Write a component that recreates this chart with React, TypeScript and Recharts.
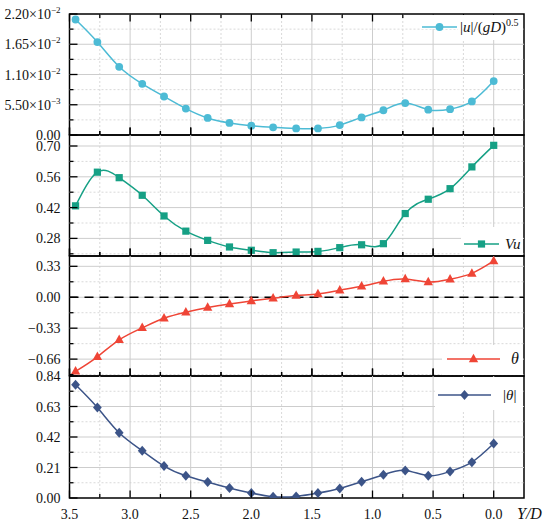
import React from 'react';
import { LineChart, Line, XAxis, YAxis, ReferenceLine, ReferenceArea } from 'recharts';

// ─── data ────────────────────────────────────────────────────────────────────
const yD = [3.45, 3.27, 3.09, 2.9, 2.72, 2.54, 2.36, 2.18, 2.0, 1.82, 1.63, 1.45, 1.27, 1.09, 0.91, 0.73, 0.54, 0.36, 0.18, 0.0];
const uNorm = [0.021, 0.0169, 0.0124, 0.0093, 0.007, 0.0048, 0.0031, 0.0022, 0.0017, 0.0014, 0.0012, 0.0012, 0.0018, 0.0032, 0.0045, 0.0058, 0.0046, 0.0047, 0.0061, 0.0098];
const vu = [0.428, 0.581, 0.556, 0.476, 0.382, 0.313, 0.271, 0.241, 0.226, 0.215, 0.218, 0.221, 0.238, 0.251, 0.256, 0.393, 0.458, 0.506, 0.605, 0.703];
const theta = [-0.79, -0.635, -0.454, -0.326, -0.224, -0.16, -0.11, -0.071, -0.039, -0.011, 0.018, 0.035, 0.075, 0.117, 0.17, 0.195, 0.163, 0.192, 0.255, 0.387];
const thetaAbs = [0.78, 0.623, 0.449, 0.325, 0.22, 0.153, 0.11, 0.069, 0.034, 0.009, 0.011, 0.034, 0.066, 0.112, 0.16, 0.19, 0.153, 0.183, 0.247, 0.375];

const xMajor = [3.5, 3.0, 2.5, 2.0, 1.5, 1.0, 0.5, 0.0];
const xMinor = [3.25, 2.75, 2.25, 1.75, 1.25, 0.75, 0.25];

const uMajor = [0, 0.0055, 0.011, 0.0165, 0.022];
const uMinor = [0.00275, 0.00825, 0.01375, 0.01925];
const vuMajor = [0.28, 0.42, 0.56, 0.7];
const vuMinor = [0.21, 0.35, 0.49, 0.63];
const thetaMajor = [-0.66, -0.33, 0, 0.33];
const thetaMinor = [-0.825, -0.495, -0.165, 0.165];
const absMajor = [0, 0.21, 0.42, 0.63, 0.84];
const absMinor = [0.105, 0.315, 0.525, 0.735];

const rows = yD.map((x, i) => ({ x, u: uNorm[i], vu: vu[i], theta: theta[i], abs: thetaAbs[i] }));

const W = 550;
const H = 528;
const LEFT = 69.5;
const RIGHT = 524;
const AX = 1; // thickness given to every axis box; taken back out of the margins
const X_DOMAIN: [number, number] = [-0.25, 3.5];
const FONT = '"Liberation Serif", "Times New Roman", serif';
const INK = '#111';
const MAJOR_GRID = '#cdcdcd';
const MINOR_GRID = '#d9d9d9';

type Shape = 'circle' | 'square' | 'triangle' | 'diamond';

// ─── markers ─────────────────────────────────────────────────────────────────
function Marker({ cx, cy, shape, color }: { cx: number; cy: number; shape: Shape; color: string }) {
  if (shape === 'circle') return <circle cx={cx} cy={cy} r={3.9} fill={color} />;
  if (shape === 'square') return <rect x={cx - 3.6} y={cy - 3.6} width={7.2} height={7.2} fill={color} />;
  if (shape === 'triangle')
    return <polygon points={`${cx},${cy - 5.2} ${cx - 4.7},${cy + 3.3} ${cx + 4.7},${cy + 3.3}`} fill={color} />;
  return <polygon points={`${cx},${cy - 5} ${cx + 4.4},${cy} ${cx},${cy + 5} ${cx - 4.4},${cy}`} fill={color} />;
}

// ─── ticks: inward marks drawn in the tick itself, labels outside ────────────
function sciLabel(v: number) {
  if (v === 0) return <>0.00</>;
  const e = Math.floor(Math.log10(v) + 1e-9);
  const m = (v / Math.pow(10, e)).toFixed(2);
  return (
    <>
      {m}×10
      <tspan dy={-6} fontSize={9}>{'−' + Math.abs(e)}</tspan>
    </>
  );
}

const fmt2 = (v: number) => v.toFixed(2).replace('-', '−');

function YTick({ x, y, payload, minor, sci }: any) {
  const v = payload.value as number;
  const isMinor = minor.includes(v);
  const len = isMinor ? 4 : 8;
  const X = Number(x);
  const Y = Number(y);
  return (
    <g>
      <path d={`M${X},${Y}H${X + len}`} stroke="#000" strokeWidth={1.3} fill="none" />
      {!isMinor && (
        <text x={X - 9} y={Y} dy={5} textAnchor="end" fontSize={14} fontFamily={FONT} fill={INK}>
          {sci ? sciLabel(v) : fmt2(v)}
        </text>
      )}
    </g>
  );
}

// dir: -1 draws the mark upwards from the axis, +1 downwards
function XTick({ x, y, payload, labels, dir }: any) {
  const v = payload.value as number;
  const isMinor = xMinor.includes(v);
  const len = isMinor ? 4 : 7.5;
  const X = Number(x);
  const Y = Number(y);
  return (
    <g>
      <path d={`M${X},${Y}V${Y + dir * len}`} stroke="#000" strokeWidth={1.3} fill="none" />
      {labels && !isMinor && (
        <text x={X} y={Y + 20.5} textAnchor="middle" fontSize={14} fontFamily={FONT} fill={INK}>
          {v.toFixed(1)}
        </text>
      )}
    </g>
  );
}

interface Panel {
  key: string;
  top: number;
  bottom: number;
  domain: [number, number];
  major: number[];
  minor: number[];
  color: string;
  shape: Shape;
  sci?: boolean;
  first?: boolean;
  xLabels?: boolean;
  zeroLine?: boolean;
}

const panels: Panel[] = [
  { key: 'u', top: 14, bottom: 135, domain: [0, 0.022], major: uMajor, minor: uMinor, color: '#4DBBD5', shape: 'circle', sci: true, first: true },
  { key: 'vu', top: 135, bottom: 256, domain: [0.2, 0.75], major: vuMajor, minor: vuMinor, color: '#16A085', shape: 'square' },
  { key: 'theta', top: 256, bottom: 376, domain: [-0.84, 0.44], major: thetaMajor, minor: thetaMinor, color: '#EF4536', shape: 'triangle', zeroLine: true },
  { key: 'abs', top: 376, bottom: 498, domain: [0, 0.84], major: absMajor, minor: absMinor, color: '#3C5488', shape: 'diamond', xLabels: true },
];

const xAll = [...xMajor, ...xMinor].sort((a, b) => b - a);

function PanelChart({ p }: { p: Panel }) {
  const yAll = [...p.major, ...p.minor].sort((a, b) => a - b);
  const inside = (v: number) => v > p.domain[0] && v < p.domain[1];
  const xInside = (v: number) => v > X_DOMAIN[0] && v < X_DOMAIN[1];
  return (
    <div style={{ position: 'absolute', left: 0, top: 0 }}>
      <LineChart
        width={W}
        height={H}
        data={rows}
        margin={{ top: p.top - AX, bottom: H - p.bottom - AX, left: LEFT - AX, right: W - RIGHT }}
      >
        <XAxis
          xAxisId="x"
          dataKey="x"
          type="number"
          reversed
          domain={X_DOMAIN}
          allowDataOverflow
          ticks={xAll}
          interval={0}
          height={AX}
          tickSize={0}
          tickMargin={0}
          axisLine={false}
          tickLine={false}
          tick={<XTick labels={!!p.xLabels} dir={-1} />}
        />
        {/* top axis: inward marks on the first panel, the shared-edge marks (pointing up) elsewhere */}
        <XAxis
          xAxisId="xt"
          orientation="top"
          dataKey="x"
          type="number"
          reversed
          domain={X_DOMAIN}
          allowDataOverflow
          ticks={xAll}
          interval={0}
          height={AX}
          tickSize={0}
          tickMargin={0}
          axisLine={false}
          tickLine={false}
          tick={<XTick labels={false} dir={p.first ? 1 : -1} />}
        />
        <YAxis
          yAxisId="y"
          type="number"
          domain={p.domain}
          allowDataOverflow
          ticks={yAll}
          interval={0}
          width={AX}
          tickSize={0}
          tickMargin={0}
          axisLine={false}
          tickLine={false}
          tick={<YTick minor={p.minor} sci={!!p.sci} />}
        />

        {/* minor grid (dotted) */}
        {xMinor.map((v) => (
          <ReferenceLine key={'xm' + v} xAxisId="x" yAxisId="y" x={v} stroke={MINOR_GRID} strokeDasharray="2 2" />
        ))}
        {p.minor.filter(inside).map((v) => (
          <ReferenceLine key={'ym' + v} xAxisId="x" yAxisId="y" y={v} stroke={MINOR_GRID} strokeDasharray="2 2" />
        ))}
        {/* major grid (solid) */}
        {xMajor.filter(xInside).map((v) => (
          <ReferenceLine key={'xM' + v} xAxisId="x" yAxisId="y" x={v} stroke={MAJOR_GRID} />
        ))}
        {p.major.filter(inside).map((v) => (
          <ReferenceLine key={'yM' + v} xAxisId="x" yAxisId="y" y={v} stroke={MAJOR_GRID} />
        ))}

        {p.zeroLine && (
          <ReferenceLine xAxisId="x" yAxisId="y" y={0} stroke="#000" strokeWidth={1.5} strokeDasharray="9 6" />
        )}

        {/* panel frame */}
        <ReferenceArea
          xAxisId="x"
          yAxisId="y"
          x1={X_DOMAIN[0]}
          x2={X_DOMAIN[1]}
          y1={p.domain[0]}
          y2={p.domain[1]}
          fill="none"
          fillOpacity={0}
          stroke="#000"
          strokeWidth={1.5}
        />

        <Line
          xAxisId="x"
          yAxisId="y"
          dataKey={p.key}
          type="natural"
          stroke={p.color}
          strokeWidth={1.5}
          isAnimationActive={false}
          dot={(d: any) => <Marker key={d.index} cx={d.cx} cy={d.cy} shape={p.shape} color={p.color} />}
          activeDot={false}
        />
      </LineChart>
    </div>
  );
}

// ─── legends (white boxes laid over the grid, as in the figure) ──────────────
interface LegendSpec {
  boxes: [number, number, number, number][];
  line: [number, number];
  y: number;
  textX: number;
  fontSize: number;
  color: string;
  shape: Shape;
  label: React.ReactNode;
}

const legends: LegendSpec[] = [
  {
    boxes: [[420, 15, 103, 14], [458, 15, 65, 25]],
    line: [422, 457], y: 27, textX: 460, fontSize: 15, color: '#4DBBD5', shape: 'circle',
    label: (
      <>
        |<i>u</i>|/(<i>gD</i>)<span style={{ fontSize: 10, position: 'relative', top: -6 }}>0.5</span>
      </>
    ),
  },
  { boxes: [[461, 227, 62, 28]], line: [464, 499], y: 244, textX: 505, fontSize: 15, color: '#16A085', shape: 'square', label: <i>Vu</i> },
  { boxes: [[442, 345, 81, 30]], line: [447, 500], y: 359, textX: 511, fontSize: 16, color: '#EF4536', shape: 'triangle', label: <i>θ</i> },
  {
    boxes: [[435, 377, 88, 33]], line: [438, 491], y: 395, textX: 503, fontSize: 15, color: '#3C5488', shape: 'diamond',
    label: (
      <>
        |<i>θ</i>|
      </>
    ),
  },
];

function LegendItem({ s }: { s: LegendSpec }) {
  const [l0, l1] = s.line;
  return (
    <>
      {s.boxes.map(([bx, by, bw, bh], i) => (
        <div key={i} style={{ position: 'absolute', left: bx, top: by, width: bw, height: bh, background: '#fff' }} />
      ))}
      <svg style={{ position: 'absolute', left: 0, top: 0, overflow: 'visible' }} width={1} height={1}>
        <line x1={l0} x2={l1} y1={s.y} y2={s.y} stroke={s.color} strokeWidth={1.5} />
        <Marker cx={(l0 + l1) / 2} cy={s.y} shape={s.shape} color={s.color} />
      </svg>
      <span
        style={{
          position: 'absolute',
          left: s.textX,
          top: s.y - 11,
          lineHeight: '22px',
          fontSize: s.fontSize,
          fontFamily: FONT,
          color: INK,
          whiteSpace: 'nowrap',
        }}
      >
        {s.label}
      </span>
    </>
  );
}

export default function App() {
  return (
    <div style={{ position: 'absolute', left: 0, top: 0, width: W, height: H, background: '#fff', overflow: 'hidden' }}>
      {panels.map((p) => (
        <PanelChart key={p.key} p={p} />
      ))}
      {legends.map((s, i) => (
        <LegendItem key={i} s={s} />
      ))}
      <span
        style={{
          position: 'absolute',
          left: 517,
          top: 503,
          lineHeight: '22px',
          fontSize: 16,
          fontFamily: FONT,
          fontStyle: 'italic',
          color: INK,
        }}
      >
        Y/D
      </span>
    </div>
  );
}
